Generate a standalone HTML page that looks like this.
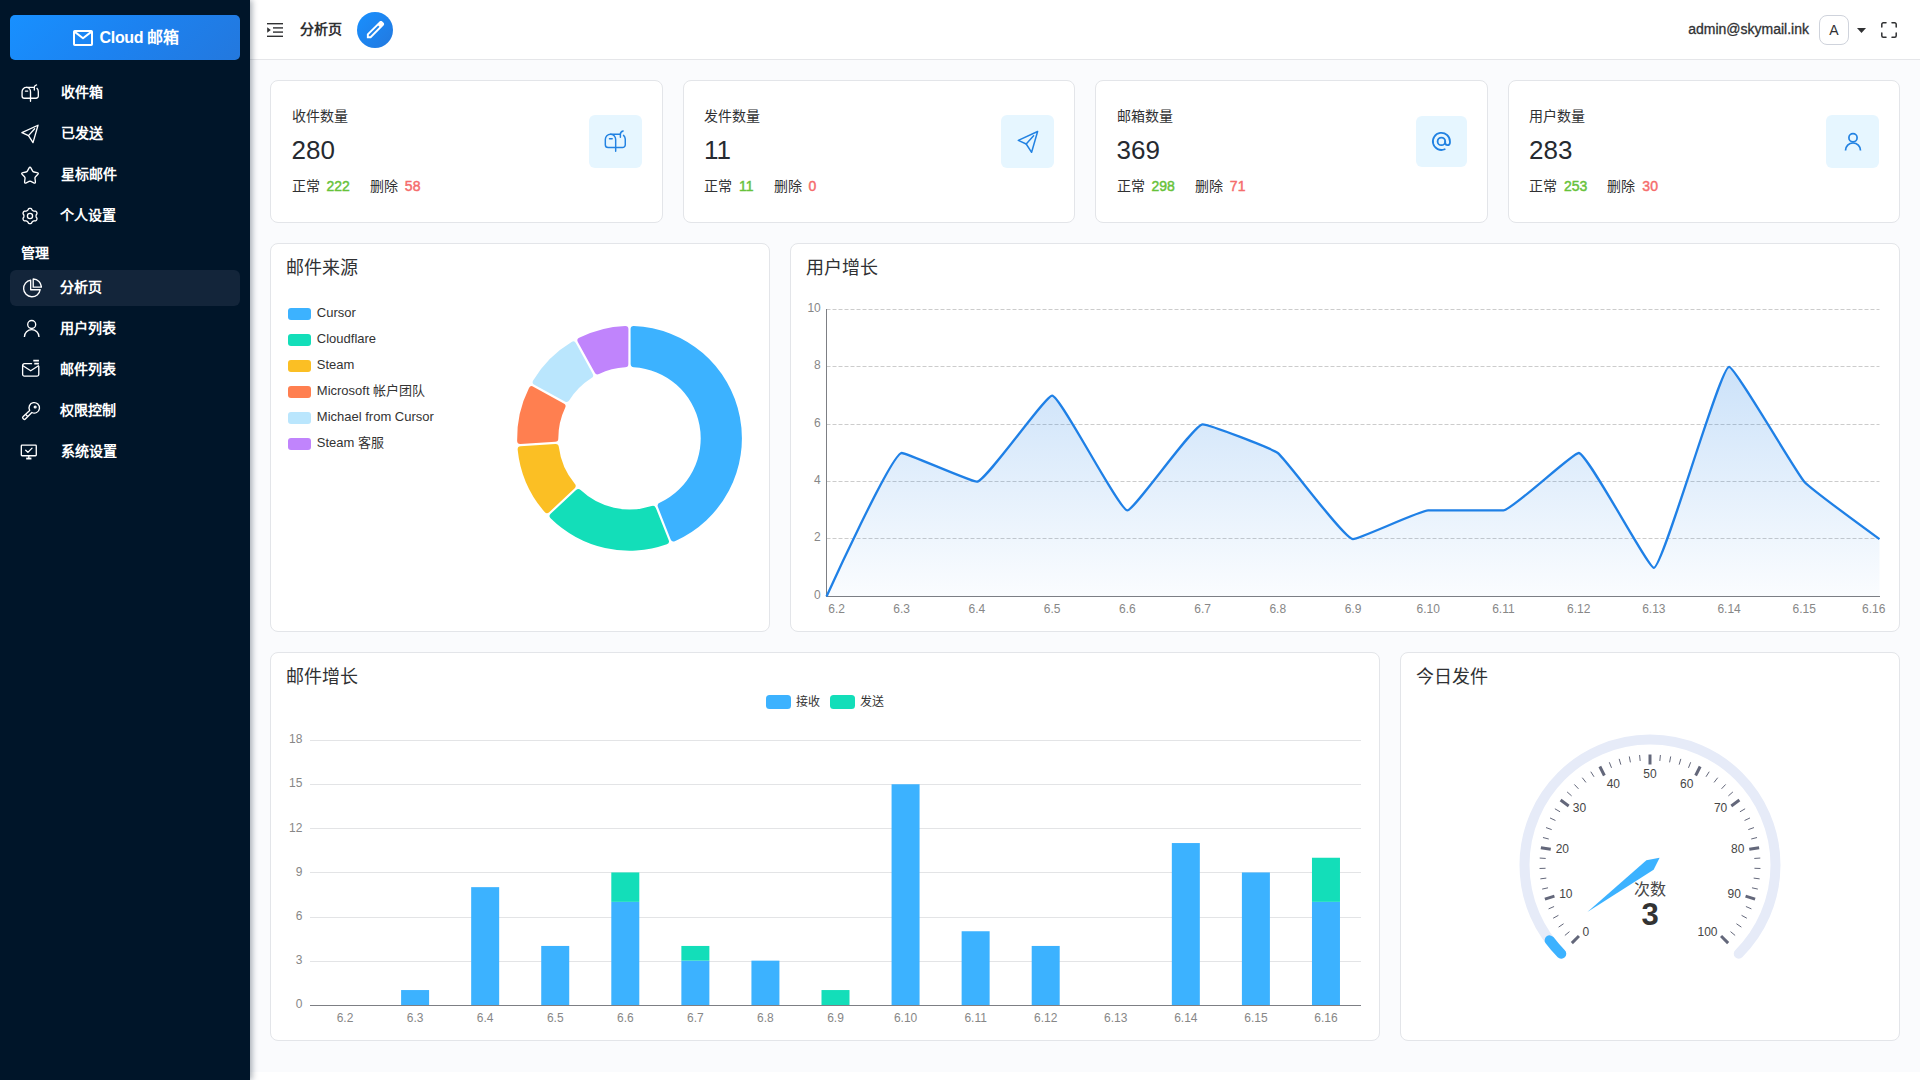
<!DOCTYPE html>
<html lang="zh-CN"><head><meta charset="utf-8"><title>Cloud 邮箱</title>
<style>
*{box-sizing:border-box;margin:0;padding:0}
html,body{width:1920px;height:1080px;overflow:hidden;background:#fff}
body{font-family:"Liberation Sans", sans-serif;color:#303133;position:relative}
.page{position:absolute;left:0;top:0;width:1920px;height:1080px;overflow:hidden;background:#fff}
.main{position:absolute;left:250px;top:60px;width:1670px;height:1012px;background:#fafbfd}
.side{position:absolute;left:0;top:0;width:250px;height:1080px;background:#001529;box-shadow:2px 0 6px rgba(0,21,41,.35);z-index:5}
.logo{position:absolute;left:10px;top:15px;width:230px;height:45px;border-radius:5px;background:linear-gradient(135deg,#1890ff 0%,#1c82f0 50%,#2378de 100%);color:#fff;font-weight:700;font-size:16px;line-height:45px;white-space:nowrap}
.logo .env{position:absolute;left:63px;top:15px}
.logo span{position:absolute;left:89.500px;top:0;letter-spacing:-.300px}
.grp{position:absolute;left:20.500px;height:20px;line-height:20px;font-size:14px;font-weight:700;color:#fff}
.mi{position:absolute;left:10px;width:230px;height:36px;border-radius:6px;color:#fff;font-size:14px;font-weight:700;line-height:36px}
.mi.act{background:#13253a}
.mi .ic{position:absolute;display:block}
.mi .ic svg{display:block}
.mi .tx{position:absolute;left:50px;top:-.700px;white-space:nowrap}
.hdr{position:absolute;left:250px;top:0;width:1670px;height:60px;background:#fff;border-bottom:1px solid #e5e6e9}
.fold{position:absolute;left:17px;top:23px}
.crumb{position:absolute;left:50px;top:19px;height:20px;line-height:20px;font-size:14px;font-weight:700;color:#303133}
.pen{position:absolute;left:107px;top:12px;width:36px;height:36px;border-radius:50%;background:linear-gradient(135deg,#1890ff,#2378de)}
.pen svg{position:absolute;left:6.800px;top:6.100px}
.mail{position:absolute;right:111px;top:19px;height:20px;line-height:20px;font-size:14px;color:#303133;white-space:nowrap;-webkit-text-stroke:.300px #303133}
.ava{position:absolute;left:1569px;top:15px;width:30px;height:30px;border:1px solid #cfd3dc;border-radius:8px;text-align:center;line-height:28px;font-size:14px;color:#303133;background:#fff}
.caret{position:absolute;left:1607px;top:28px}
.full{position:absolute;left:1631px;top:22px}
.card{position:absolute;background:#fff;border:1px solid #e3e5e9;border-radius:8px}
.ttl{position:absolute;left:14.600px;top:11px;font-size:18px;line-height:26px;color:#303133;white-space:nowrap}
.cv{position:absolute;left:-1px;top:-1px;display:block}
.st-t{position:absolute;left:20.500px;top:25px;font-size:14px;line-height:20px;color:#303133}
.st-n{position:absolute;left:20.500px;top:53px;font-size:26px;line-height:32px;color:#262a30}
.st-b{position:absolute;left:20.500px;top:95px;font-size:14px;line-height:20px;color:#303133;white-space:nowrap}
.st-b b{font-weight:400;margin-left:7px;font-size:14px;-webkit-text-stroke:.450px currentColor}
.st-b .ok{color:#67c23a}
.st-b .ng{color:#f56c6c}
.st-b .cj{display:inline-block;width:28px;overflow:visible;white-space:nowrap}
.st-b .dl{margin-left:20px}
.st-i{position:absolute;border-radius:6px;background:#e6f6ff;display:flex;align-items:center;justify-content:center}
.st-i svg{display:block}
text{font-family:"Liberation Sans", sans-serif}
.ax{font-size:12px;fill:#878787}
.lg13{font-size:13px;fill:#333}
.lg12{font-size:12px;fill:#333}
.gl{font-size:12px;fill:#464646}
.gt{font-size:16px;fill:#464646}
.gd{font-size:31px;font-weight:700;fill:#333}
</style></head><body><div class="page">
<div class="main"></div>
<div class="hdr">
<svg class="fold" width="16" height="14" viewBox="0 0 16 14"><g fill="#303133"><rect x="0" y="0" width="16" height="1.400"/><rect x="6" y="4.200" width="10" height="1.400"/><rect x="6" y="8.400" width="10" height="1.400"/><rect x="0" y="12.600" width="16" height="1.400"/><path d="M0.200 4.200L3.800 7 0.200 9.800z"/></g></svg>
<div class="crumb">分析页</div>
<div class="pen"><svg width="23" height="23" viewBox="0 0 24 24" fill="#fff"><path d="M5 19h1.425L16.200 9.225L14.775 7.800L5 17.575zm-2 2v-4.250L16.200 3.575q.300-.275.663-.425t.762-.150t.775.150t.650.450L20.425 5q.300.275.438.650T21 6.400q0 .400-.137.763t-.438.662L7.250 21zM19 6.400L17.600 5zm-3.525 2.125l-.700-.725L16.200 9.225z"/></svg></div>
<div class="mail">admin@skymail.ink</div>
<div class="ava">A</div>
<svg class="caret" width="9" height="5" viewBox="0 0 9 5"><path d="M0 0h9L4.500 5z" fill="#303133"/></svg>
<svg class="full" width="16" height="16" viewBox="0 0 16 16" fill="none" stroke="#303133" stroke-width="1.500" stroke-linecap="round" stroke-linejoin="round"><path d="M.800 5V2.300A1.500 1.500 0 0 1 2.300.800H5M11 .800h2.700a1.500 1.500 0 0 1 1.500 1.500V5M15.200 11v2.700a1.500 1.500 0 0 1-1.500 1.500H11M5 15.200H2.300a1.500 1.500 0 0 1-1.500-1.500V11"/></svg>
</div>
<div class="side">
<div class="logo"><svg class="env" width="20" height="16" viewBox="0 0 20 16" fill="none" stroke="#fff" stroke-width="2" stroke-linejoin="round" stroke-linecap="round"><rect x="1" y="1" width="18" height="14" rx=".800"/><path d="M1.800 1.900L10 8.300l8.200-6.400"/></svg><span>Cloud 邮箱</span></div>
<div class="grp" style="top:243px">管理</div>
<div class="mi" style="top:74.5px"><span class="ic" style="left:11px;top:9.3px"><svg width="18.4" height="18.4" viewBox="0 0 24 24" fill="none" stroke="#fff" stroke-width="1.7391304347826089" stroke-linecap="round" stroke-linejoin="round"><path d="M17 4.5H6.9A5.5 5.5 0 0 0 1.4 10v5.6a3 3 0 0 0 3 3h15.2a3 3 0 0 0 3-3V10c0-2-.8-3.4-1.8-4.3"/><path d="M6.9 4.5a5.5 5.5 0 0 1 5.5 5.5v12.6"/><path d="M5.8 9.2h2.9"/><path d="M17.4 7.8V4.4c0-1.7 1.3-2.8 2.9-3.3"/></svg></span><span class="tx" style="left:51.3px">收件箱</span></div>
<div class="mi" style="top:115.5px"><span class="ic" style="left:10px;top:8.3px"><svg width="20" height="20" viewBox="0 0 24 24" fill="none" stroke="#fff" stroke-width="1.6" stroke-linecap="round" stroke-linejoin="round"><path d="M21.600 1.500L2.300 10.400l7.900 3.600 5.400 8.300z"/><path d="M10.200 14L17.600 5.700"/></svg></span><span class="tx" style="left:51.3px">已发送</span></div>
<div class="mi" style="top:156.5px"><span class="ic" style="left:10px;top:8.3px"><svg width="20" height="20" viewBox="0 0 24 24" fill="none" stroke="#fff" stroke-width="1.6" stroke-linecap="round" stroke-linejoin="round"><path d="M10.77 3.79Q12 1.5 13.23 3.79L15.02 7.11Q15.59 8.16 16.77 8.38L20.47 9.05Q23.03 9.52 21.24 11.39L18.63 14.12Q17.8 14.99 17.96 16.17L18.47 19.91Q18.82 22.48 16.48 21.36L13.08 19.72Q12 19.2 10.92 19.72L7.52 21.36Q5.18 22.48 5.53 19.91L6.04 16.17Q6.2 14.99 5.37 14.12L2.76 11.39Q0.97 9.52 3.53 9.05L7.23 8.38Q8.41 8.16 8.98 7.11Z"/></svg></span><span class="tx" style="left:50.5px">星标邮件</span></div>
<div class="mi" style="top:197.5px"><span class="ic" style="left:10px;top:8.5px"><svg width="20" height="20" viewBox="0 0 24 24" fill="none" stroke="#fff" stroke-width="1.6" stroke-linecap="round" stroke-linejoin="round"><path d="M12 2.8 L12.32 2.82 L12.64 2.87 L12.95 2.95 L13.25 3.08 L13.55 3.24 L13.82 3.44 L14.06 3.73 L14.2 4.33 L14.4 4.63 L14.6 4.86 L14.81 5.06 L15.01 5.24 L15.22 5.4 L15.43 5.54 L15.65 5.68 L15.87 5.8 L16.11 5.91 L16.35 6.01 L16.61 6.1 L16.89 6.18 L17.19 6.24 L17.54 6.26 L18.13 6.08 L18.5 6.15 L18.82 6.28 L19.1 6.45 L19.36 6.65 L19.59 6.88 L19.79 7.13 L19.97 7.4 L20.11 7.69 L20.23 7.99 L20.31 8.3 L20.36 8.62 L20.36 8.96 L20.32 9.3 L20.19 9.65 L19.74 10.07 L19.58 10.39 L19.49 10.68 L19.42 10.96 L19.36 11.23 L19.33 11.49 L19.31 11.74 L19.3 12 L19.31 12.26 L19.33 12.51 L19.36 12.77 L19.42 13.04 L19.49 13.32 L19.58 13.61 L19.74 13.93 L20.19 14.35 L20.32 14.7 L20.36 15.04 L20.36 15.38 L20.31 15.7 L20.23 16.01 L20.11 16.31 L19.97 16.6 L19.79 16.87 L19.59 17.12 L19.36 17.35 L19.1 17.55 L18.82 17.72 L18.5 17.85 L18.13 17.92 L17.54 17.74 L17.19 17.76 L16.89 17.82 L16.61 17.9 L16.35 17.99 L16.11 18.09 L15.87 18.2 L15.65 18.32 L15.43 18.46 L15.22 18.6 L15.01 18.76 L14.81 18.94 L14.6 19.14 L14.4 19.37 L14.2 19.67 L14.06 20.27 L13.82 20.56 L13.55 20.76 L13.25 20.92 L12.95 21.05 L12.64 21.13 L12.32 21.18 L12 21.2 L11.68 21.18 L11.36 21.13 L11.05 21.05 L10.75 20.92 L10.45 20.76 L10.18 20.56 L9.94 20.27 L9.8 19.67 L9.6 19.37 L9.4 19.14 L9.19 18.94 L8.99 18.76 L8.78 18.6 L8.57 18.46 L8.35 18.32 L8.13 18.2 L7.89 18.09 L7.65 17.99 L7.39 17.9 L7.11 17.82 L6.81 17.76 L6.46 17.74 L5.87 17.92 L5.5 17.85 L5.18 17.72 L4.9 17.55 L4.64 17.35 L4.41 17.12 L4.21 16.87 L4.03 16.6 L3.89 16.31 L3.77 16.01 L3.69 15.7 L3.64 15.38 L3.64 15.04 L3.68 14.7 L3.81 14.35 L4.26 13.93 L4.42 13.61 L4.51 13.32 L4.58 13.04 L4.64 12.77 L4.67 12.51 L4.69 12.26 L4.7 12 L4.69 11.74 L4.67 11.49 L4.64 11.23 L4.58 10.96 L4.51 10.68 L4.42 10.39 L4.26 10.07 L3.81 9.65 L3.68 9.3 L3.64 8.96 L3.64 8.62 L3.69 8.3 L3.77 7.99 L3.89 7.69 L4.03 7.4 L4.21 7.13 L4.41 6.88 L4.64 6.65 L4.9 6.45 L5.18 6.28 L5.5 6.15 L5.87 6.08 L6.46 6.26 L6.81 6.24 L7.11 6.18 L7.39 6.1 L7.65 6.01 L7.89 5.91 L8.13 5.8 L8.35 5.68 L8.57 5.54 L8.78 5.4 L8.99 5.24 L9.19 5.06 L9.4 4.86 L9.6 4.63 L9.8 4.33 L9.94 3.73 L10.18 3.44 L10.45 3.24 L10.75 3.08 L11.05 2.95 L11.36 2.87 L11.68 2.82Z"/><circle cx="12" cy="12" r="3.100"/></svg></span><span class="tx" style="left:50px">个人设置</span></div>
<div class="mi act" style="top:270px"><span class="ic" style="left:11.5px;top:7.8px"><svg width="20.4" height="20.4" viewBox="0 0 24 24" fill="none" stroke="#fff" stroke-width="1.5686274509803924" stroke-linecap="round" stroke-linejoin="round"><path d="M10.2 2.6A9.8 9.8 0 1 0 21.4 13.8H10.2z"/><path d="M13.2 1.2v9.6h9.6A9.6 9.6 0 0 0 13.2 1.2z"/></svg></span><span class="tx" style="left:50px">分析页</span></div>
<div class="mi" style="top:311px"><span class="ic" style="left:10.2px;top:6.1px"><svg width="23.4" height="23.4" viewBox="0 0 24 24" fill="none" stroke="#fff" stroke-width="1.3675213675213675" stroke-linecap="round" stroke-linejoin="round"><circle cx="12" cy="7.700" r="4.100"/><path d="M4.500 20.500a7.500 7.500 0 0 1 15 0" stroke-linecap="butt"/></svg></span><span class="tx" style="left:50px">用户列表</span></div>
<div class="mi" style="top:352px"><span class="ic" style="left:11.4px;top:7.1px"><svg width="19.4" height="19.4" viewBox="0 0 24 24" fill="none" stroke="#fff" stroke-width="1.6494845360824744" stroke-linecap="round" stroke-linejoin="round"><path d="M13 5.800H4.200A2.200 2.200 0 0 0 2 8v11a2.200 2.200 0 0 0 2.200 2.200h15.600A2.200 2.200 0 0 0 22 19V9.200"/><path d="M2.400 8.400L12 14.600l9.600-6.200"/><path d="M15.200 2.100h7M16.400 5.800h5.800" stroke-width="2.23" stroke-linecap="butt"/></svg></span><span class="tx" style="left:50px">邮件列表</span></div>
<div class="mi" style="top:393px"><span class="ic" style="left:10.8px;top:8px"><svg width="20" height="20" viewBox="0 0 24 24" fill="none" stroke="#fff" stroke-width="1.6" stroke-linecap="round" stroke-linejoin="round"><path d="M10.400 11.300A6.300 6.300 0 1 1 13 13.800L5.200 21.600a1.500 1.500 0 0 1-2.100 0l-.700-.700a1.500 1.500 0 0 1 0-2.100z"/><path d="M6.200 16.800l1.600 1.600"/><circle cx="17" cy="7.200" r="1.100"/></svg></span><span class="tx" style="left:50px">权限控制</span></div>
<div class="mi" style="top:434px"><span class="ic" style="left:10.1px;top:9.4px"><svg width="17.6" height="17.6" viewBox="0 0 24 24" fill="none" stroke="#fff" stroke-width="1.8181818181818181" stroke-linecap="round" stroke-linejoin="round"><rect x="1.800" y="3" width="20.400" height="14.400" rx="1"/><path d="M12 17.400v2.600"/><path d="M8.400 21.200h7.200" stroke-width="2.55" stroke-linecap="butt"/><path d="M7.800 9.800l3 3 5.600-5.800"/></svg></span><span class="tx" style="left:51.2px">系统设置</span></div>
</div>
<div class="card st" style="left:270px;top:80px;width:392.5px;height:143px"><div class="st-t">收件数量</div><div class="st-n">280</div><div class="st-b"><span class="cj">正常</span><b class="ok">222</b><span class="cj dl">删除</span><b class="ng">58</b></div><div class="st-i" style="width:53px;height:53px;top:34px;right:20px"><svg width="22.6" height="22.6" viewBox="0 0 24 24" fill="none" stroke="#2282E2" stroke-width="1.55" stroke-linecap="round" stroke-linejoin="round"><path d="M17 4.5H6.9A5.5 5.5 0 0 0 1.4 10v5.6a3 3 0 0 0 3 3h15.2a3 3 0 0 0 3-3V10c0-2-.8-3.4-1.8-4.3"/><path d="M6.9 4.5a5.5 5.5 0 0 1 5.5 5.5v12.6"/><path d="M5.8 9.2h2.9"/><path d="M17.4 7.8V4.4c0-1.7 1.3-2.8 2.9-3.3"/></svg></div></div>
<div class="card st" style="left:682.5px;top:80px;width:392.5px;height:143px"><div class="st-t">发件数量</div><div class="st-n">11</div><div class="st-b"><span class="cj">正常</span><b class="ok">11</b><span class="cj dl">删除</span><b class="ng">0</b></div><div class="st-i" style="width:53px;height:53px;top:34px;right:20px"><svg width="24" height="24" viewBox="0 0 24 24" fill="none" stroke="#2282E2" stroke-width="1.5" stroke-linecap="round" stroke-linejoin="round"><path d="M21.600 1.500L2.300 10.400l7.900 3.600 5.400 8.300z"/><path d="M10.200 14L17.600 5.700"/></svg></div></div>
<div class="card st" style="left:1095px;top:80px;width:392.5px;height:143px"><div class="st-t">邮箱数量</div><div class="st-n">369</div><div class="st-b"><span class="cj">正常</span><b class="ok">298</b><span class="cj dl">删除</span><b class="ng">71</b></div><div class="st-i" style="width:51px;height:51px;top:35px;right:20px"><svg width="22.8" height="22.8" viewBox="0 0 24 24" fill="none" stroke="#2282E2" stroke-width="1.9" stroke-linecap="round" stroke-linejoin="round"><circle cx="12" cy="12" r="4"/><path d="M16 12v1.500a2.500 2.500 0 0 0 5 0V12a9 9 0 1 0-5.500 8.280"/></svg></div></div>
<div class="card st" style="left:1507.5px;top:80px;width:392.5px;height:143px"><div class="st-t">用户数量</div><div class="st-n">283</div><div class="st-b"><span class="cj">正常</span><b class="ok">253</b><span class="cj dl">删除</span><b class="ng">30</b></div><div class="st-i" style="width:53px;height:53px;top:34px;right:20px"><svg width="24" height="24" viewBox="0 0 24 24" fill="none" stroke="#2282E2" stroke-width="1.7" stroke-linecap="round" stroke-linejoin="round"><circle cx="12" cy="7.700" r="4.100"/><path d="M4.500 20.500a7.500 7.500 0 0 1 15 0" stroke-linecap="butt"/></svg></div></div>
<div class="card" style="left:270px;top:243px;width:500px;height:389px"><div class="ttl">邮件来源</div><svg class="cv" width="500" height="389" viewBox="0 0 500 389"><path d="M363.8 82.98A112.4 112.4 0 0 1 404.84 298.15Q401.9 299.4 400.69 296.43L387.95 264.04Q386.73 261.09 389.66 259.8A71.2 71.2 0 0 0 363.8 124.23Q360.6 124.11 360.65 120.91L360.57 86.11Q360.6 82.91 363.8 82.98Z" fill="#3CB2FF"/><path d="M396.85 301.31A112.4 112.4 0 0 1 280.57 275.32Q278.32 273.04 280.63 270.83L306.06 247.06Q308.36 244.84 310.63 247.08A71.2 71.2 0 0 0 381.67 262.96Q384.68 261.9 385.82 264.89L398.7 297.22Q399.85 300.21 396.85 301.31Z" fill="#13DEB9"/><path d="M274.68 269.05A112.4 112.4 0 0 1 247.67 206.64Q247.4 203.46 250.59 203.22L285.33 201.12Q288.52 200.87 288.84 204.05A71.2 71.2 0 0 0 304.75 240.82Q306.85 243.23 304.48 245.39L279.17 269.27Q276.81 271.44 274.68 269.05Z" fill="#FBBF24"/><path d="M247.13 198.06A112.4 112.4 0 0 1 259 144.96Q260.48 142.12 263.3 143.63L293.76 160.47Q296.58 161.97 295.15 164.83A71.2 71.2 0 0 0 288.3 195.47Q288.38 198.67 285.18 198.82L250.45 201.09Q247.26 201.26 247.13 198.06Z" fill="#FF7F50"/><path d="M263.15 137.42A112.4 112.4 0 0 1 301.62 98.95Q304.39 97.34 305.96 100.13L322.65 130.66Q324.24 133.44 321.5 135.09A71.2 71.2 0 0 0 299.29 157.3Q297.64 160.04 294.86 158.45L264.33 141.76Q261.54 140.19 263.15 137.42Z" fill="#BAE6FD"/><path d="M309.16 94.8A112.4 112.4 0 0 1 355.2 82.98Q358.4 82.91 358.43 86.11L358.35 120.91Q358.4 124.11 355.2 124.23A71.2 71.2 0 0 0 329.03 130.95Q326.17 132.38 324.67 129.56L307.83 99.1Q306.32 96.28 309.16 94.8Z" fill="#C084FC"/><rect x="18" y="64.9" width="23" height="12" rx="3" fill="#3CB2FF"/><text x="46.8" y="74.2" class="lg13">Cursor</text><rect x="18" y="90.9" width="23" height="12" rx="3" fill="#13DEB9"/><text x="46.8" y="100.2" class="lg13">Cloudflare</text><rect x="18" y="116.9" width="23" height="12" rx="3" fill="#FBBF24"/><text x="46.8" y="126.2" class="lg13">Steam</text><rect x="18" y="142.9" width="23" height="12" rx="3" fill="#FF7F50"/><text x="46.8" y="152.2" class="lg13">Microsoft 帐户团队</text><rect x="18" y="168.9" width="23" height="12" rx="3" fill="#BAE6FD"/><text x="46.8" y="178.2" class="lg13">Michael from Cursor</text><rect x="18" y="194.9" width="23" height="12" rx="3" fill="#C084FC"/><text x="46.8" y="204.2" class="lg13">Steam 客服</text></svg></div>
<div class="card" style="left:790px;top:243px;width:1110px;height:389px"><div class="ttl">用户增长</div><svg class="cv" width="1110" height="389" viewBox="0 0 1110 389"><defs><linearGradient id="ag" x1="0" y1="0" x2="0" y2="1"><stop offset="0" stop-color="#1F80E6" stop-opacity=".23"/><stop offset="1" stop-color="#1F80E6" stop-opacity=".02"/></linearGradient></defs><line x1="36.5" y1="295.5" x2="1089.5" y2="295.5" stroke="#ccc" stroke-width="1" stroke-dasharray="4 2"/><line x1="36.5" y1="238.5" x2="1089.5" y2="238.5" stroke="#ccc" stroke-width="1" stroke-dasharray="4 2"/><line x1="36.5" y1="181.5" x2="1089.5" y2="181.5" stroke="#ccc" stroke-width="1" stroke-dasharray="4 2"/><line x1="36.5" y1="123.5" x2="1089.5" y2="123.5" stroke="#ccc" stroke-width="1" stroke-dasharray="4 2"/><line x1="36.5" y1="66.5" x2="1089.5" y2="66.5" stroke="#ccc" stroke-width="1" stroke-dasharray="4 2"/><text x="30.8" y="355.8" class="ax" text-anchor="end">0</text><text x="30.8" y="298.4" class="ax" text-anchor="end">2</text><text x="30.8" y="241" class="ax" text-anchor="end">4</text><text x="30.8" y="183.6" class="ax" text-anchor="end">6</text><text x="30.8" y="126.2" class="ax" text-anchor="end">8</text><text x="30.8" y="68.8" class="ax" text-anchor="end">10</text><line x1="36.5" y1="66" x2="36.5" y2="354" stroke="#7d7f84" stroke-width="1"/><line x1="36" y1="353.5" x2="1090" y2="353.5" stroke="#7d7f84" stroke-width="1"/><path d="M36.5 353.5C36.5 353.5 101.66 210 111.71 210C116.71 210 180.71 238.7 186.93 238.7C195.76 238.7 255.31 152.6 262.14 152.6C270.35 152.6 329.15 267.4 337.36 267.4C344.19 267.4 403.74 181.3 412.57 181.3C418.79 181.3 481.57 205.26 487.79 210C496.61 216.74 554.17 296.1 563 296.1C569.22 296.1 630.44 267.4 638.21 267.4C645.48 267.4 706.77 267.4 713.43 267.4C721.81 267.4 782.5 210 788.64 210C797.55 210 857.99 324.8 863.86 324.8C873.03 324.8 929.9 123.9 939.07 123.9C944.94 123.9 1005.38 228.51 1014.29 238.7C1020.42 245.73 1089.5 296.1 1089.5 296.1L1089.5 353.5L36.5 353.5Z" fill="url(#ag)"/><path d="M36.5 353.5C36.5 353.5 101.66 210 111.71 210C116.71 210 180.71 238.7 186.93 238.7C195.76 238.7 255.31 152.6 262.14 152.6C270.35 152.6 329.15 267.4 337.36 267.4C344.19 267.4 403.74 181.3 412.57 181.3C418.79 181.3 481.57 205.26 487.79 210C496.61 216.74 554.17 296.1 563 296.1C569.22 296.1 630.44 267.4 638.21 267.4C645.48 267.4 706.77 267.4 713.43 267.4C721.81 267.4 782.5 210 788.64 210C797.55 210 857.99 324.8 863.86 324.8C873.03 324.8 929.9 123.9 939.07 123.9C944.94 123.9 1005.38 228.51 1014.29 238.7C1020.42 245.73 1089.5 296.1 1089.5 296.1" fill="none" stroke="#1F80E6" stroke-width="2.300" stroke-linejoin="round" stroke-linecap="butt"/><text x="46.7" y="370" class="ax" text-anchor="middle">6.2</text><text x="111.71" y="370" class="ax" text-anchor="middle">6.3</text><text x="186.93" y="370" class="ax" text-anchor="middle">6.4</text><text x="262.14" y="370" class="ax" text-anchor="middle">6.5</text><text x="337.36" y="370" class="ax" text-anchor="middle">6.6</text><text x="412.57" y="370" class="ax" text-anchor="middle">6.7</text><text x="487.79" y="370" class="ax" text-anchor="middle">6.8</text><text x="563" y="370" class="ax" text-anchor="middle">6.9</text><text x="638.21" y="370" class="ax" text-anchor="middle">6.10</text><text x="713.43" y="370" class="ax" text-anchor="middle">6.11</text><text x="788.64" y="370" class="ax" text-anchor="middle">6.12</text><text x="863.86" y="370" class="ax" text-anchor="middle">6.13</text><text x="939.07" y="370" class="ax" text-anchor="middle">6.14</text><text x="1014.29" y="370" class="ax" text-anchor="middle">6.15</text><text x="1083.7" y="370" class="ax" text-anchor="middle">6.16</text></svg></div>
<div class="card" style="left:270px;top:652px;width:1110px;height:389px"><div class="ttl">邮件增长</div><svg class="cv" width="1110" height="389" viewBox="0 0 1110 389"><line x1="40" y1="309.5" x2="1091" y2="309.5" stroke="#e3e4e6" stroke-width="1"/><line x1="40" y1="265.5" x2="1091" y2="265.5" stroke="#e3e4e6" stroke-width="1"/><line x1="40" y1="220.5" x2="1091" y2="220.5" stroke="#e3e4e6" stroke-width="1"/><line x1="40" y1="176.5" x2="1091" y2="176.5" stroke="#e3e4e6" stroke-width="1"/><line x1="40" y1="132.5" x2="1091" y2="132.5" stroke="#e3e4e6" stroke-width="1"/><line x1="40" y1="88.5" x2="1091" y2="88.5" stroke="#e3e4e6" stroke-width="1"/><text x="32.4" y="355.9" class="ax" text-anchor="end">0</text><text x="32.4" y="311.8" class="ax" text-anchor="end">3</text><text x="32.4" y="267.7" class="ax" text-anchor="end">6</text><text x="32.4" y="223.6" class="ax" text-anchor="end">9</text><text x="32.4" y="179.5" class="ax" text-anchor="end">12</text><text x="32.4" y="135.4" class="ax" text-anchor="end">15</text><text x="32.4" y="91.3" class="ax" text-anchor="end">18</text><text x="75.03" y="370" class="ax" text-anchor="middle">6.2</text><rect x="131.1" y="338.05" width="28" height="15.45" fill="#3CB2FF"/><text x="145.1" y="370" class="ax" text-anchor="middle">6.3</text><rect x="201.17" y="235.15" width="28" height="118.35" fill="#3CB2FF"/><text x="215.17" y="370" class="ax" text-anchor="middle">6.4</text><rect x="271.23" y="293.95" width="28" height="59.55" fill="#3CB2FF"/><text x="285.23" y="370" class="ax" text-anchor="middle">6.5</text><rect x="341.3" y="249.85" width="28" height="103.65" fill="#3CB2FF"/><rect x="341.3" y="220.45" width="28" height="29.4" fill="#13DEB9"/><text x="355.3" y="370" class="ax" text-anchor="middle">6.6</text><rect x="411.37" y="308.65" width="28" height="44.85" fill="#3CB2FF"/><rect x="411.37" y="293.95" width="28" height="14.7" fill="#13DEB9"/><text x="425.37" y="370" class="ax" text-anchor="middle">6.7</text><rect x="481.43" y="308.65" width="28" height="44.85" fill="#3CB2FF"/><text x="495.43" y="370" class="ax" text-anchor="middle">6.8</text><rect x="551.5" y="338.05" width="28" height="15.45" fill="#13DEB9"/><text x="565.5" y="370" class="ax" text-anchor="middle">6.9</text><rect x="621.57" y="132.25" width="28" height="221.25" fill="#3CB2FF"/><text x="635.57" y="370" class="ax" text-anchor="middle">6.10</text><rect x="691.63" y="279.25" width="28" height="74.25" fill="#3CB2FF"/><text x="705.63" y="370" class="ax" text-anchor="middle">6.11</text><rect x="761.7" y="293.95" width="28" height="59.55" fill="#3CB2FF"/><text x="775.7" y="370" class="ax" text-anchor="middle">6.12</text><text x="845.77" y="370" class="ax" text-anchor="middle">6.13</text><rect x="901.83" y="191.05" width="28" height="162.45" fill="#3CB2FF"/><text x="915.83" y="370" class="ax" text-anchor="middle">6.14</text><rect x="971.9" y="220.45" width="28" height="133.05" fill="#3CB2FF"/><text x="985.9" y="370" class="ax" text-anchor="middle">6.15</text><rect x="1041.97" y="249.85" width="28" height="103.65" fill="#3CB2FF"/><rect x="1041.97" y="205.75" width="28" height="44.1" fill="#13DEB9"/><text x="1055.97" y="370" class="ax" text-anchor="middle">6.16</text><line x1="40" y1="353.5" x2="1091" y2="353.5" stroke="#7d7f84" stroke-width="1"/><rect x="496" y="43" width="25" height="14" rx="3.500" fill="#3CB2FF"/><text x="525.5" y="53.5" class="lg12">接收</text><rect x="560" y="43" width="25" height="14" rx="3.500" fill="#13DEB9"/><text x="589.8" y="53.5" class="lg12">发送</text></svg></div>
<div class="card" style="left:1400px;top:652px;width:500px;height:389px"><div class="ttl">今日发件</div><svg class="cv" width="500" height="389" viewBox="0 0 500 389"><path d="M161.26 301.74A125.5 125.5 0 1 1 338.74 301.74" fill="none" stroke="#E6EBF8" stroke-width="10" stroke-linecap="round"/><path d="M161.26 301.74A125.5 125.5 0 0 1 149.64 288.35" fill="none" stroke="#3CB2FF" stroke-width="10" stroke-linecap="round"/><line x1="171.86" y1="291.14" x2="178.94" y2="284.06" stroke="#63677A" stroke-width="3"/><line x1="164.86" y1="283.44" x2="169.48" y2="279.61" stroke="#63677A" stroke-width="1"/><line x1="158.61" y1="275.11" x2="163.57" y2="271.74" stroke="#63677A" stroke-width="1"/><line x1="153.17" y1="266.23" x2="158.43" y2="263.34" stroke="#63677A" stroke-width="1"/><line x1="148.59" y1="256.88" x2="154.09" y2="254.5" stroke="#63677A" stroke-width="1"/><line x1="144.91" y1="247.15" x2="154.42" y2="244.06" stroke="#63677A" stroke-width="3"/><line x1="142.16" y1="237.1" x2="148.02" y2="235.8" stroke="#63677A" stroke-width="1"/><line x1="140.37" y1="226.85" x2="146.32" y2="226.1" stroke="#63677A" stroke-width="1"/><line x1="139.55" y1="216.47" x2="145.55" y2="216.28" stroke="#63677A" stroke-width="1"/><line x1="139.72" y1="206.06" x2="145.71" y2="206.44" stroke="#63677A" stroke-width="1"/><line x1="140.86" y1="195.71" x2="150.74" y2="197.28" stroke="#63677A" stroke-width="3"/><line x1="142.97" y1="185.52" x2="148.78" y2="187.01" stroke="#63677A" stroke-width="1"/><line x1="146.03" y1="175.57" x2="151.68" y2="177.6" stroke="#63677A" stroke-width="1"/><line x1="150.02" y1="165.95" x2="155.45" y2="168.51" stroke="#63677A" stroke-width="1"/><line x1="154.89" y1="156.75" x2="160.05" y2="159.81" stroke="#63677A" stroke-width="1"/><line x1="160.6" y1="148.05" x2="168.69" y2="153.93" stroke="#63677A" stroke-width="3"/><line x1="167.11" y1="139.93" x2="171.61" y2="143.89" stroke="#63677A" stroke-width="1"/><line x1="174.36" y1="132.45" x2="178.46" y2="136.82" stroke="#63677A" stroke-width="1"/><line x1="182.27" y1="125.69" x2="185.95" y2="130.43" stroke="#63677A" stroke-width="1"/><line x1="190.79" y1="119.7" x2="194.01" y2="124.77" stroke="#63677A" stroke-width="1"/><line x1="199.83" y1="114.54" x2="204.37" y2="123.45" stroke="#63677A" stroke-width="3"/><line x1="209.32" y1="110.26" x2="211.53" y2="115.84" stroke="#63677A" stroke-width="1"/><line x1="219.17" y1="106.89" x2="220.85" y2="112.65" stroke="#63677A" stroke-width="1"/><line x1="229.29" y1="104.46" x2="230.42" y2="110.35" stroke="#63677A" stroke-width="1"/><line x1="239.6" y1="102.99" x2="240.17" y2="108.96" stroke="#63677A" stroke-width="1"/><line x1="250" y1="102.5" x2="250" y2="112.5" stroke="#63677A" stroke-width="3"/><line x1="260.4" y1="102.99" x2="259.83" y2="108.96" stroke="#63677A" stroke-width="1"/><line x1="270.71" y1="104.46" x2="269.58" y2="110.35" stroke="#63677A" stroke-width="1"/><line x1="280.83" y1="106.89" x2="279.15" y2="112.65" stroke="#63677A" stroke-width="1"/><line x1="290.68" y1="110.26" x2="288.47" y2="115.84" stroke="#63677A" stroke-width="1"/><line x1="300.17" y1="114.54" x2="295.63" y2="123.45" stroke="#63677A" stroke-width="3"/><line x1="309.21" y1="119.7" x2="305.99" y2="124.77" stroke="#63677A" stroke-width="1"/><line x1="317.73" y1="125.69" x2="314.05" y2="130.43" stroke="#63677A" stroke-width="1"/><line x1="325.64" y1="132.45" x2="321.54" y2="136.82" stroke="#63677A" stroke-width="1"/><line x1="332.89" y1="139.93" x2="328.39" y2="143.89" stroke="#63677A" stroke-width="1"/><line x1="339.4" y1="148.05" x2="331.31" y2="153.93" stroke="#63677A" stroke-width="3"/><line x1="345.11" y1="156.75" x2="339.95" y2="159.81" stroke="#63677A" stroke-width="1"/><line x1="349.98" y1="165.95" x2="344.55" y2="168.51" stroke="#63677A" stroke-width="1"/><line x1="353.97" y1="175.57" x2="348.32" y2="177.6" stroke="#63677A" stroke-width="1"/><line x1="357.03" y1="185.52" x2="351.22" y2="187.01" stroke="#63677A" stroke-width="1"/><line x1="359.14" y1="195.71" x2="349.26" y2="197.28" stroke="#63677A" stroke-width="3"/><line x1="360.28" y1="206.06" x2="354.29" y2="206.44" stroke="#63677A" stroke-width="1"/><line x1="360.45" y1="216.47" x2="354.45" y2="216.28" stroke="#63677A" stroke-width="1"/><line x1="359.63" y1="226.85" x2="353.68" y2="226.1" stroke="#63677A" stroke-width="1"/><line x1="357.84" y1="237.1" x2="351.98" y2="235.8" stroke="#63677A" stroke-width="1"/><line x1="355.09" y1="247.15" x2="345.58" y2="244.06" stroke="#63677A" stroke-width="3"/><line x1="351.41" y1="256.88" x2="345.91" y2="254.5" stroke="#63677A" stroke-width="1"/><line x1="346.83" y1="266.23" x2="341.57" y2="263.34" stroke="#63677A" stroke-width="1"/><line x1="341.39" y1="275.11" x2="336.43" y2="271.74" stroke="#63677A" stroke-width="1"/><line x1="335.14" y1="283.44" x2="330.52" y2="279.61" stroke="#63677A" stroke-width="1"/><line x1="328.14" y1="291.14" x2="321.06" y2="284.06" stroke="#63677A" stroke-width="3"/><text x="182.47" y="283.73" class="gl" text-anchor="start">0</text><text x="159.17" y="245.71" class="gl" text-anchor="start">10</text><text x="155.68" y="201.26" class="gl" text-anchor="start">20</text><text x="172.74" y="160.07" class="gl" text-anchor="start">30</text><text x="206.64" y="136.21" class="gl" text-anchor="start">40</text><text x="250" y="125.8" class="gl" text-anchor="middle">50</text><text x="293.36" y="136.21" class="gl" text-anchor="end">60</text><text x="327.26" y="160.07" class="gl" text-anchor="end">70</text><text x="344.32" y="201.26" class="gl" text-anchor="end">80</text><text x="340.83" y="245.71" class="gl" text-anchor="end">90</text><text x="317.53" y="283.73" class="gl" text-anchor="end">100</text><path d="M259.6 205.79 L246.4 208.2 L187.38 260.01 L253.6 217.8Z" fill="#3CB2FF"/><text x="250" y="242.8" class="gt" text-anchor="middle">次数</text><text x="250" y="272.6" class="gd" text-anchor="middle">3</text></svg></div>
</div></body></html>
